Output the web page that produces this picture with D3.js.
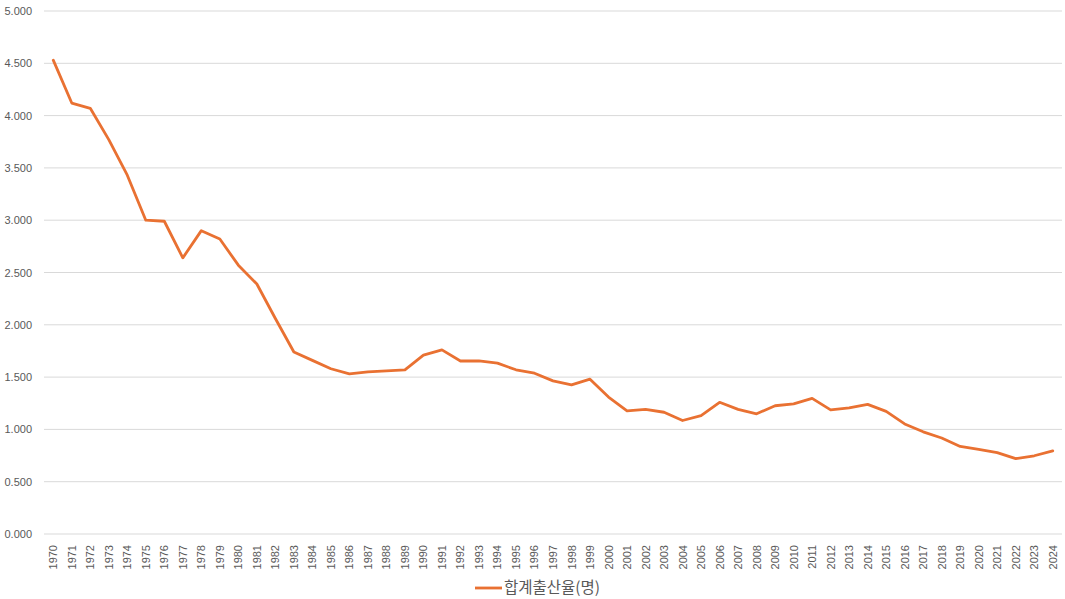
<!DOCTYPE html>
<html><head><meta charset="utf-8">
<script src="https://cdn.jsdelivr.net/npm/d3@7"></script>
<style>body{margin:0;background:#fff;} svg{display:block;font-family:"Liberation Sans",Arial,sans-serif;}</style>
</head><body><svg id="c" width="1065" height="599"></svg>
<script>
const years = d3.range(1970, 2025).map(String);
const tfr = [4.53,4.12,4.07,3.77,3.43,3.00,2.99,2.64,2.90,2.82,2.57,2.39,2.06,1.74,1.66,1.58,1.53,1.55,1.56,1.57,1.71,1.76,1.654,1.656,1.634,1.57,1.537,1.464,1.425,1.48,1.309,1.178,1.191,1.164,1.085,1.132,1.259,1.192,1.149,1.226,1.244,1.297,1.187,1.205,1.239,1.172,1.052,0.977,0.918,0.837,0.808,0.778,0.721,0.748,0.795];
const yTicks = [0,0.5,1,1.5,2,2.5,3,3.5,4,4.5,5];
const seriesName = "합계출산율(명)";

const svg = d3.select("#c");
const x = d3.scalePoint().domain(years).range([44,1062]).padding(0.5);
const y = d3.scaleLinear().domain([0,5]).range([534,11]);

const g = svg.append("g");
g.selectAll("line.grid").data(yTicks).join("line")
  .attr("x1",44).attr("x2",1062).attr("y1",d=>y(d)).attr("y2",d=>y(d))
  .attr("stroke","#d9d9d9").attr("stroke-width",1);
g.selectAll("text.yl").data(yTicks).join("text")
  .attr("x",32).attr("y",d=>y(d)+4).attr("text-anchor","end")
  .attr("font-size",11).attr("fill","#595959").text(d=>d3.format(".3f")(d));
g.selectAll("text.xl").data(years).join("text")
  .attr("transform",d=>`translate(${x(d)+4},545) rotate(-90)`)
  .attr("text-anchor","end").attr("font-size",11).attr("fill","#595959").text(d=>d);

const line = d3.line().x((d,i)=>x(years[i])).y(d=>y(d));
svg.append("path").datum(tfr).attr("d",line).attr("fill","none")
  .attr("stroke","#E97132").attr("stroke-width",2.8).attr("stroke-linejoin","round").attr("stroke-linecap","round");

svg.append("line").attr("x1",475).attr("x2",502).attr("y1",588).attr("y2",588)
  .attr("stroke","#E97132").attr("stroke-width",2.8);
svg.append("text").attr("x",504).attr("y",593).attr("font-size",15.5).attr("fill","#595959")
  .attr("font-family","'Noto Sans CJK KR',sans-serif").text(seriesName);
</script></body></html>
